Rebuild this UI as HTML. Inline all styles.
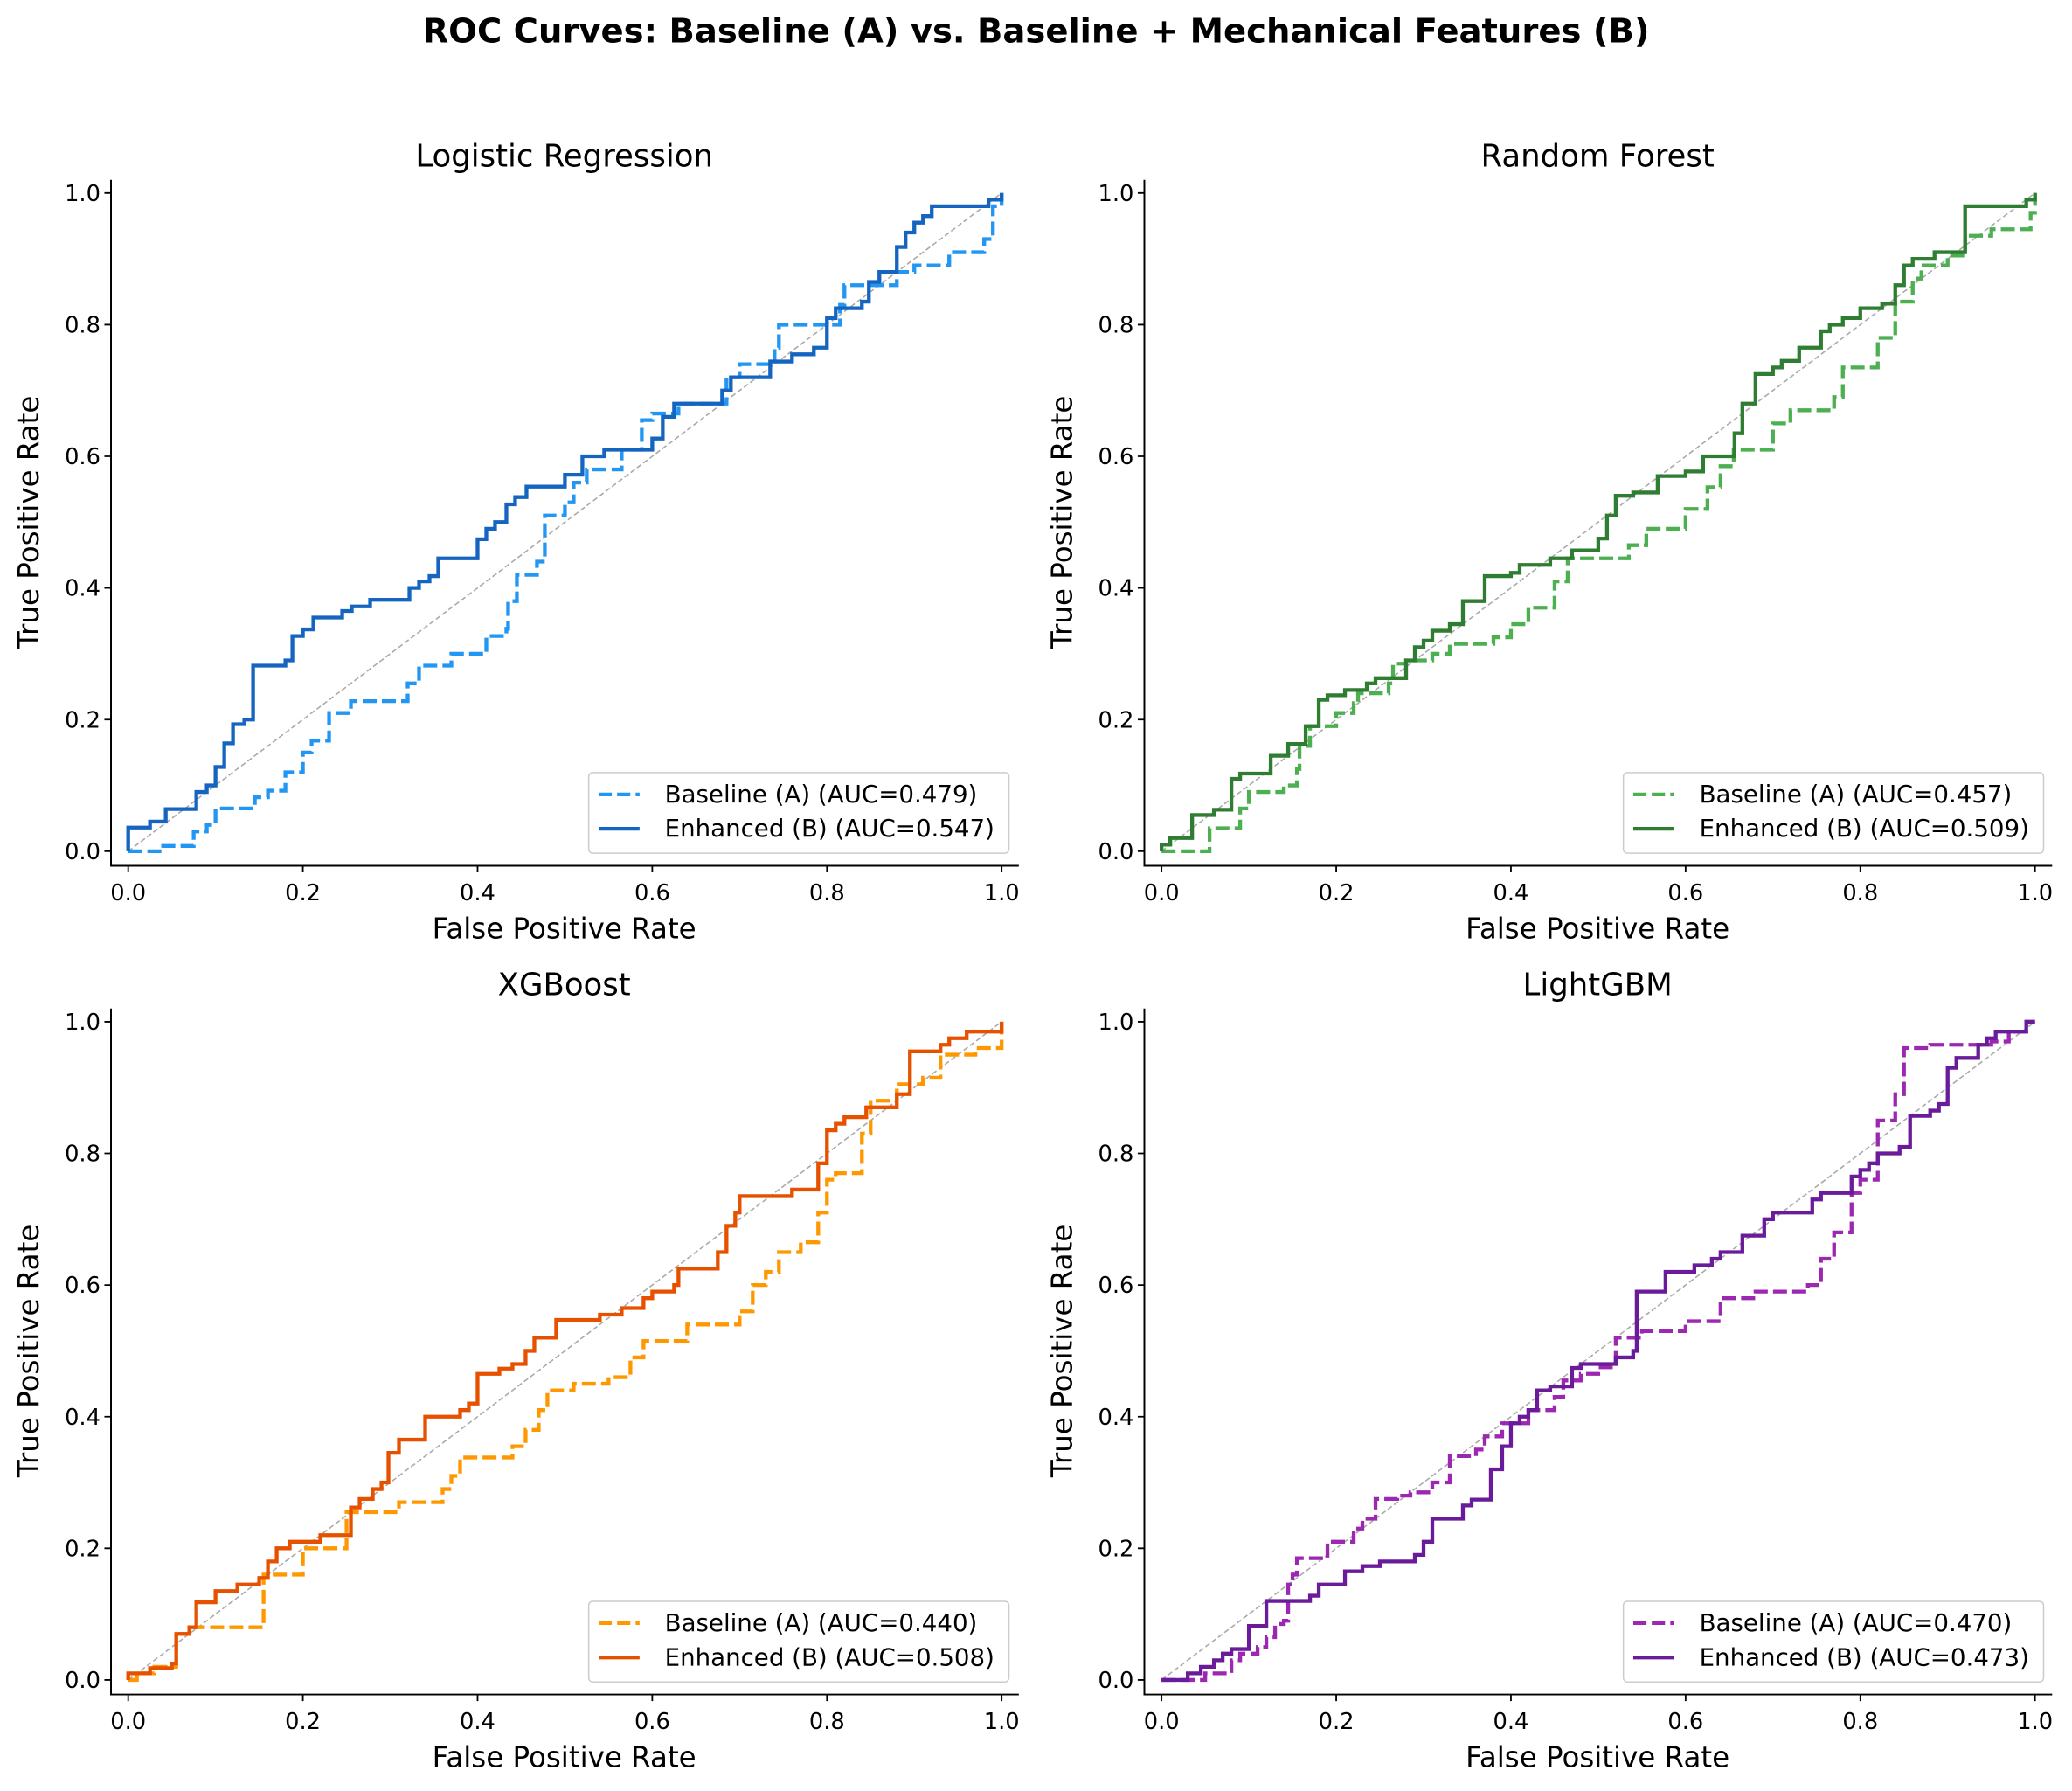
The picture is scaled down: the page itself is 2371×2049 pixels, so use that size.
<!DOCTYPE html>
<html><head><meta charset="utf-8"><style>
html,body{margin:0;padding:0;background:#fff}
svg{display:block}
text{font-family:"DejaVu Sans","Liberation Sans",sans-serif;fill:#000}
.c path{vector-effect:non-scaling-stroke;fill:none;stroke-width:4.3;stroke-linejoin:miter}
.d{stroke-dasharray:16 6}
.g{stroke:#aaa;stroke-width:1.6 !important;stroke-dasharray:6 3}
.tk{font-size:17px}
.al{font-size:21.5px}
.tt{font-size:23.5px}
.lg{font-size:18.3px}
</style></head><body>
<svg width="2371" height="2049" viewBox="0 0 1568 1355" xmlns="http://www.w3.org/2000/svg">
<defs>
<g id="axes">
  <path d="M-13,-508 V11 H674" fill="none" stroke="#000" stroke-width="1.3"/>
  <g stroke="#000" stroke-width="1.2">
    <path d="M0,11v5M132.2,11v5M264.4,11v5M396.6,11v5M528.8,11v5M661,11v5"/>
    <path d="M-13,0h-5M-13,-99.6h-5M-13,-199.2h-5M-13,-298.8h-5M-13,-398.4h-5M-13,-498h-5"/>
  </g>
  <g class="tk" text-anchor="middle">
    <text x="0" y="37">0.0</text><text x="132.2" y="37">0.2</text><text x="264.4" y="37">0.4</text><text x="396.6" y="37">0.6</text><text x="528.8" y="37">0.8</text><text x="661" y="37">1.0</text>
  </g>
  <g class="tk" text-anchor="end">
    <text x="-21" y="6">0.0</text><text x="-21" y="-93.6">0.2</text><text x="-21" y="-193.2">0.4</text><text x="-21" y="-292.8">0.6</text><text x="-21" y="-392.4">0.8</text><text x="-21" y="-492">1.0</text>
  </g>
  <text class="al" x="330" y="66" text-anchor="middle">False Positive Rate</text>
  <text class="al" transform="translate(-68,-249) rotate(-90)" text-anchor="middle">True Positive Rate</text>
</g>
</defs>

<text x="784" y="32" text-anchor="middle" style="font-size:25.5px;font-weight:bold">ROC Curves: Baseline (A) vs. Baseline + Mechanical Features (B)</text>

<g transform="translate(97,644)">
  <use href="#axes"/>
  <text class="tt" x="330" y="-518" text-anchor="middle">Logistic Regression</text>
</g>
<g class="c" transform="translate(97,644) scale(661,-498)">
  <path class="g" d="M0,0L1,1"/>
  <path class="d" stroke="#2196F3" d="M0,0H0.04V0.008H0.075V0.03H0.09V0.04H0.1V0.065H0.145V0.082H0.16V0.092H0.18V0.12H0.2V0.15H0.21V0.168H0.23V0.21H0.255V0.228H0.32V0.255H0.333V0.282H0.37V0.3H0.41V0.327H0.433V0.338H0.435V0.38H0.445V0.42H0.468V0.44H0.477V0.51H0.5V0.53H0.51V0.56H0.525V0.58H0.565V0.61H0.588V0.655H0.6V0.665H0.63V0.68H0.685V0.72H0.7V0.74H0.74V0.765H0.745V0.8H0.8V0.8H0.815V0.83H0.82V0.86H0.88V0.88H0.9V0.89H0.94V0.91H0.98V0.93H0.99V0.98H1V1"/>
  <path stroke="#1565C0" d="M0,0V0.036H0.025V0.045H0.043V0.064H0.078V0.09H0.09V0.1H0.1V0.128H0.11V0.164H0.12V0.193H0.133V0.2H0.143V0.282H0.18V0.29H0.188V0.327H0.2V0.337H0.212V0.355H0.245V0.365H0.256V0.372H0.277V0.382H0.322V0.4H0.333V0.41H0.345V0.418H0.355V0.445H0.4V0.474H0.41V0.49H0.42V0.5H0.433V0.527H0.443V0.538H0.456V0.554H0.5V0.572H0.52V0.6H0.545V0.61H0.6V0.627H0.612V0.66H0.625V0.68H0.68V0.7H0.69V0.72H0.735V0.744H0.76V0.755H0.785V0.765H0.8V0.81H0.81V0.825H0.84V0.835H0.848V0.865H0.86V0.88H0.88V0.918H0.89V0.94H0.9V0.955H0.91V0.965H0.92V0.98H0.985V0.99H1V1"/>
</g>

<g transform="translate(879,644)">
  <use href="#axes"/>
  <text class="tt" x="330" y="-518" text-anchor="middle">Random Forest</text>
</g>
<g class="c" transform="translate(879,644) scale(661,-498)">
  <path class="g" d="M0,0L1,1"/>
  <path class="d" stroke="#4CAF50" d="M0,0H0.055V0.035H0.09V0.065H0.1V0.09H0.14V0.1H0.155V0.125H0.158V0.16H0.17V0.19H0.2V0.21H0.22V0.225H0.225V0.24H0.26V0.255H0.265V0.285H0.28V0.29H0.31V0.3H0.33V0.315H0.38V0.325H0.4V0.345H0.42V0.37H0.45V0.41H0.465V0.445H0.535V0.465H0.555V0.49H0.6V0.52H0.625V0.553H0.64V0.585H0.655V0.61H0.7V0.65H0.72V0.67H0.77V0.69H0.78V0.735H0.82V0.78H0.84V0.835H0.86V0.87H0.87V0.89H0.9V0.905H0.92V0.935H0.95V0.945H0.995V0.97H1V1"/>
  <path stroke="#2E7D32" d="M0,0V0.01H0.01V0.02H0.035V0.055H0.06V0.063H0.08V0.11H0.09V0.118H0.125V0.145H0.145V0.163H0.165V0.19H0.18V0.23H0.19V0.237H0.21V0.245H0.235V0.255H0.245V0.263H0.28V0.29H0.29V0.31H0.3V0.32H0.31V0.335H0.33V0.345H0.345V0.38H0.37V0.418H0.4V0.423H0.41V0.435H0.445V0.445H0.47V0.457H0.5V0.475H0.51V0.51H0.52V0.54H0.54V0.545H0.568V0.57H0.6V0.577H0.62V0.6H0.656V0.635H0.665V0.68H0.68V0.725H0.7V0.735H0.71V0.745H0.73V0.765H0.755V0.79H0.765V0.8H0.78V0.81H0.8V0.825H0.825V0.832H0.84V0.86H0.85V0.89H0.86V0.9H0.885V0.91H0.92V0.98H0.99V0.99H1V1"/>
</g>

<g transform="translate(97,1271)">
  <use href="#axes"/>
  <text class="tt" x="330" y="-518" text-anchor="middle">XGBoost</text>
</g>
<g class="c" transform="translate(97,1271) scale(661,-498)">
  <path class="g" d="M0,0L1,1"/>
  <path class="d" stroke="#FF9800" d="M0,0H0.01V0.01H0.03V0.02H0.055V0.07H0.07V0.08H0.155V0.16H0.2V0.2H0.25V0.255H0.31V0.27H0.36V0.29H0.37V0.31H0.38V0.338H0.44V0.355H0.455V0.38H0.47V0.41H0.48V0.44H0.51V0.45H0.55V0.46H0.575V0.49H0.59V0.515H0.64V0.54H0.7V0.56H0.715V0.6H0.73V0.62H0.745V0.65H0.77V0.665H0.79V0.71H0.8V0.76H0.81V0.77H0.84V0.83H0.85V0.88H0.88V0.905H0.91V0.915H0.93V0.95H0.97V0.96H1V1"/>
  <path stroke="#E65100" d="M0,0V0.01H0.025V0.018H0.05V0.025H0.055V0.07H0.07V0.08H0.078V0.118H0.1V0.135H0.125V0.145H0.15V0.155H0.16V0.18H0.17V0.2H0.185V0.21H0.22V0.22H0.255V0.262H0.265V0.275H0.28V0.29H0.29V0.3H0.298V0.345H0.31V0.365H0.34V0.4H0.37V0.4H0.38V0.41H0.39V0.42H0.4V0.465H0.425V0.473H0.44V0.48H0.455V0.5H0.465V0.52H0.49V0.547H0.54V0.555H0.565V0.565H0.59V0.58H0.6V0.59H0.625V0.6H0.63V0.625H0.675V0.65H0.685V0.69H0.695V0.71H0.7V0.735H0.76V0.745H0.79V0.785H0.8V0.835H0.81V0.845H0.82V0.855H0.845V0.87H0.88V0.89H0.895V0.955H0.93V0.965H0.94V0.975H0.96V0.985H1V1"/>
</g>

<g transform="translate(879,1271)">
  <use href="#axes"/>
  <text class="tt" x="330" y="-518" text-anchor="middle">LightGBM</text>
</g>
<g class="c" transform="translate(879,1271) scale(661,-498)">
  <path class="g" d="M0,0L1,1"/>
  <path class="d" stroke="#9C27B0" d="M0,0H0.05V0.01H0.08V0.03H0.09V0.04H0.11V0.05H0.12V0.065H0.13V0.085H0.14V0.09H0.145V0.145H0.15V0.16H0.155V0.185H0.19V0.21H0.22V0.23H0.23V0.245H0.245V0.275H0.27V0.28H0.285V0.285H0.31V0.3H0.33V0.34H0.36V0.35H0.37V0.37H0.39V0.39H0.42V0.41H0.45V0.43H0.46V0.455H0.48V0.465H0.5V0.475H0.52V0.52H0.55V0.53H0.6V0.545H0.64V0.58H0.68V0.59H0.74V0.6H0.755V0.64H0.77V0.68H0.79V0.74H0.8V0.76H0.82V0.85H0.84V0.89H0.85V0.96H0.88V0.965H0.95V0.97H0.97V0.985H0.99V1H1"/>
  <path stroke="#6A1B9A" d="M0,0H0.03V0.01H0.045V0.02H0.06V0.03H0.07V0.04H0.08V0.047H0.1V0.082H0.12V0.12H0.17V0.128H0.18V0.145H0.21V0.165H0.23V0.173H0.25V0.18H0.29V0.19H0.3V0.21H0.31V0.245H0.345V0.265H0.355V0.274H0.377V0.32H0.39V0.355H0.4V0.39H0.41V0.4H0.42V0.41H0.43V0.44H0.445V0.446H0.47V0.474H0.48V0.48H0.52V0.49H0.54V0.5H0.544V0.59H0.577V0.62H0.61V0.63H0.63V0.64H0.64V0.65H0.665V0.675H0.69V0.7H0.7V0.71H0.745V0.73H0.755V0.74H0.79V0.765H0.8V0.775H0.81V0.785H0.82V0.8H0.845V0.81H0.857V0.857H0.88V0.865H0.89V0.875H0.9V0.93H0.91V0.945H0.935V0.965H0.945V0.975H0.955V0.985H0.99V1H1"/>
</g>

<g>
  <rect x="445.5" y="584.5" width="318" height="61" rx="3" fill="#fff" fill-opacity="0.8" stroke="#ccc"/>
  <line x1="453" y1="601" x2="484" y2="601" stroke="#2196F3" stroke-width="2.8" stroke-dasharray="10 4"/>
  <line x1="453" y1="627" x2="484" y2="627" stroke="#1565C0" stroke-width="2.8"/>
  <text class="lg" x="503" y="607">Baseline (A) (AUC=0.479)</text>
  <text class="lg" x="503" y="633">Enhanced (B) (AUC=0.547)</text>
</g>
<g>
  <rect x="1228.5" y="584.5" width="318" height="61" rx="3" fill="#fff" fill-opacity="0.8" stroke="#ccc"/>
  <line x1="1236" y1="601" x2="1267" y2="601" stroke="#4CAF50" stroke-width="2.8" stroke-dasharray="10 4"/>
  <line x1="1236" y1="627" x2="1267" y2="627" stroke="#2E7D32" stroke-width="2.8"/>
  <text class="lg" x="1286" y="607">Baseline (A) (AUC=0.457)</text>
  <text class="lg" x="1286" y="633">Enhanced (B) (AUC=0.509)</text>
</g>
<g>
  <rect x="445.5" y="1211.5" width="318" height="61" rx="3" fill="#fff" fill-opacity="0.8" stroke="#ccc"/>
  <line x1="453" y1="1228" x2="484" y2="1228" stroke="#FF9800" stroke-width="2.8" stroke-dasharray="10 4"/>
  <line x1="453" y1="1254" x2="484" y2="1254" stroke="#E65100" stroke-width="2.8"/>
  <text class="lg" x="503" y="1234">Baseline (A) (AUC=0.440)</text>
  <text class="lg" x="503" y="1260">Enhanced (B) (AUC=0.508)</text>
</g>
<g>
  <rect x="1228.5" y="1211.5" width="318" height="61" rx="3" fill="#fff" fill-opacity="0.8" stroke="#ccc"/>
  <line x1="1236" y1="1228" x2="1267" y2="1228" stroke="#9C27B0" stroke-width="2.8" stroke-dasharray="10 4"/>
  <line x1="1236" y1="1254" x2="1267" y2="1254" stroke="#6A1B9A" stroke-width="2.8"/>
  <text class="lg" x="1286" y="1234">Baseline (A) (AUC=0.470)</text>
  <text class="lg" x="1286" y="1260">Enhanced (B) (AUC=0.473)</text>
</g>
</svg>
</body></html>
